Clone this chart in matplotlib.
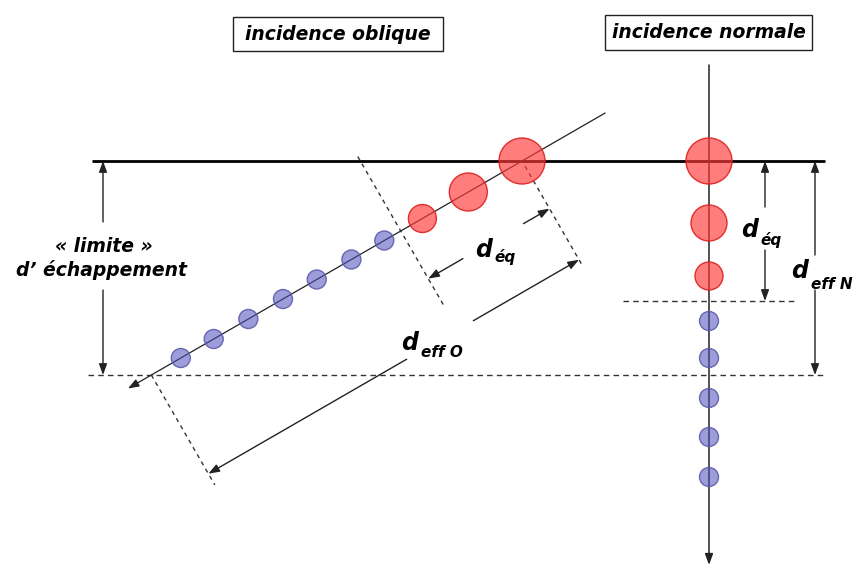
import numpy as np
import matplotlib
matplotlib.use('Agg')
import matplotlib.pyplot as plt
from matplotlib.patches import Circle, Rectangle

# ---- data (distances along the path, in pixels of the sketch) ----
red_dist = [0, 62, 115]            # "equilibrium" bubbles, along path
red_radius = [23, 19, 14]
normal_red_radius = [23, 18, 14]
blue_dist_oblique = [159, 197, 237, 276, 316, 356, 394]
blue_dist_normal = [160, 197, 237, 276, 316]
blue_radius = 9.5

title_labels = ["incidence oblique", "incidence normale"]
limit_label = ["« limite »", "d\u2019 échappement"]

# ---- geometry ----
W, H = 856, 568
surface_y = 161
exit_y = 375
eq_y = 301
angle_deg = 30
ox0 = 522
nx0 = 709

fig = plt.figure(figsize=(W / 100, H / 100), dpi=100)
ax = fig.add_axes([0, 0, 1, 1])
ax.set_xlim(0, W)
ax.set_ylim(H, 0)
ax.set_aspect('equal')
ax.axis('off')

FONT = dict(family='DejaVu Sans', weight='bold', style='italic', color='black')

ang = np.deg2rad(angle_deg)
u = np.array([-np.cos(ang), np.sin(ang)])       # along path, downwards-left
nv = np.array([np.sin(ang), np.cos(ang)])       # perpendicular, downwards-right
P0 = np.array([ox0, surface_y], dtype=float)


def pt(a, s=0.0):
    return P0 + a * u + s * nv


d_eq = eq_y - surface_y
d_eff = exit_y - surface_y
a_eq = d_eq
a_eff = d_eff / np.sin(ang)

LC = '#222222'
DASH = (0, (4, 3))


def arrow(p_from, p_to, lw=1.0, ms=11):
    ax.annotate('', xy=tuple(p_to), xytext=tuple(p_from),
                arrowprops=dict(arrowstyle='-|>,head_length=0.6,head_width=0.22',
                                mutation_scale=ms, lw=lw, color=LC,
                                shrinkA=0, shrinkB=0), zorder=2)


def seg(p, q, **kw):
    ax.plot([p[0], q[0]], [p[1], q[1]], **kw)


# surface line and horizontal dashed lines
ax.plot([92, 825], [surface_y, surface_y], color='black', lw=2.0, zorder=2,
        solid_capstyle='butt')
ax.plot([88, 825], [exit_y, exit_y], color='#333333', lw=1.0, ls=DASH, zorder=2)
ax.plot([623, 796], [eq_y, eq_y], color='#333333', lw=1.0, ls=DASH, zorder=2)

# paths
arrow((nx0, 65), (nx0, 565), lw=1.1)
arrow(pt(-96), pt(455), lw=0.9)

# perpendicular dashed lines (oblique)
seg(pt(a_eq, -86), pt(a_eq, 86), color='#333333', lw=1.0, ls=(0, (3, 3)), zorder=2)
seg(pt(0, 6), pt(0, 122), color='#333333', lw=1.0, ls=(0, (3, 3)), zorder=2)
seg(pt(a_eff, 0), pt(a_eff, 127), color='#333333', lw=1.0, ls=(0, (3, 3)), zorder=2)

# oblique d_eq arrows
arrow(pt(100, 55), pt(a_eq, 55))
arrow(pt(30, 55), pt(0, 55))
# oblique d_eff arrows
arrow(pt(199, 114), pt(a_eff, 114))
arrow(pt(122, 114), pt(0, 114))

# left vertical "limite" arrows
arrow((103, 222), (103, surface_y))
arrow((103, 290), (103, exit_y))
# right d_eq / d_eff arrows
arrow((765, 207), (765, surface_y))
arrow((765, 250), (765, eq_y))
arrow((815, 255), (815, surface_y))
arrow((815, 290), (815, exit_y))

# bubbles
RED_FC = (1.0, 0.22, 0.22, 0.65)
RED_EC = (0.88, 0.12, 0.12, 0.9)
BLUE_FC = (0.30, 0.30, 0.74, 0.55)
BLUE_EC = (0.36, 0.36, 0.68, 0.9)

for d, r in zip(red_dist, red_radius):
    c = pt(d)
    ax.add_patch(Circle(tuple(c), r, fc=RED_FC, ec=RED_EC, lw=1.0, zorder=3))
for d in blue_dist_oblique:
    c = pt(d)
    ax.add_patch(Circle(tuple(c), blue_radius, fc=BLUE_FC, ec=BLUE_EC, lw=1.0, zorder=3))
for d, r in zip(red_dist, normal_red_radius):
    ax.add_patch(Circle((nx0, surface_y + d), r, fc=RED_FC, ec=RED_EC, lw=1.0, zorder=3))
for d in blue_dist_normal:
    ax.add_patch(Circle((nx0, surface_y + d), blue_radius, fc=BLUE_FC, ec=BLUE_EC,
                        lw=1.0, zorder=3))

# title boxes
ax.add_patch(Rectangle((233, 17), 210, 34, fill=False, ec='#222222', lw=1.0, zorder=4))
ax.add_patch(Rectangle((605, 15), 207, 35, fill=False, ec='#222222', lw=1.0, zorder=4))
ax.text(338, 35, title_labels[0], ha='center', va='center', fontsize=13.5, **FONT)
ax.text(708.5, 33, title_labels[1], ha='center', va='center', fontsize=13.5, **FONT)

# left label
ax.text(104, 252, limit_label[0], ha='center', va='baseline', fontsize=13.5, **FONT)
ax.text(102, 276, limit_label[1], ha='center', va='baseline', fontsize=13.5, **FONT)

# d labels
def dlabel(x, y, sub, sx, sy):
    ax.text(x, y, 'd', ha='left', va='baseline', fontsize=17, **FONT)
    ax.text(sx, sy, sub, ha='left', va='baseline', fontsize=11, **FONT)

dlabel(475, 257, 'éq', 494, 262)
dlabel(401, 350, 'eff O', 421, 357)
dlabel(741, 237, 'éq', 760, 245)
dlabel(791, 278, 'eff N', 811, 289)

fig.savefig('out.png', dpi=100, facecolor='white')
